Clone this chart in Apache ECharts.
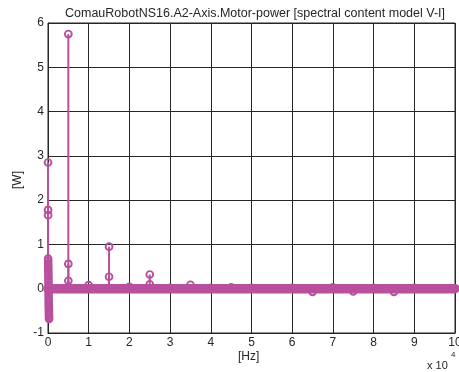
<!DOCTYPE html>
<html>
<head>
<meta charset="utf-8">
<script src="https://cdn.jsdelivr.net/npm/echarts@6/dist/echarts.min.js"></script>
<style>
html,body{margin:0;padding:0;background:#fff;}
#c{width:459px;height:372px;}
</style>
</head>
<body>
<div id="c"></div>
<script>
// Frequencies [Hz] and spectral power values [W]
const lowFreqs = [0, 10, 20, 30, 40, 50, 60, 70, 80, 90, 100, 110, 120, 130, 140, 150, 160, 170, 180, 190, 200, 210, 220, 230, 240, 250, 260, 270, 280, 290];
const lowValues = [2.85, 1.78, 1.66, 0.68, 0.63, 0.57, 0.51, 0.45, 0.39, 0.33, 0.27, 0.21, 0.15, 0.09, -0.06, -0.12, -0.18, -0.24, -0.3, -0.35, -0.4, -0.45, -0.5, -0.55, -0.6, -0.64, -0.68, 0.04, -0.03, 0.02];
const peakFreqs = [5000, 5000, 5000, 10000, 15000, 15000, 20000, 25000, 25000, 30000, 35000, 40000, 45000, 50000, 60000, 65000, 70000, 75000, 80000, 85000, 90000];
const peakValues = [5.75, 0.56, 0.18, 0.08, 0.95, 0.27, 0.04, 0.32, 0.1, 0.02, 0.09, 0.02, 0.03, 0.02, 0.02, -0.07, 0.03, -0.06, 0.02, -0.07, 0.02];
// dense near-zero floor of the spectrum (start / end frequencies)
const floorFreqs = [0, 100000];
const floorValues = [0, 0];
const xTicks = ['0','1','2','3','4','5','6','7','8','9','10'];
const yTicks = ['-1','0','1','2','3','4','5','6'];

const C = '#b8509e';
const stemData = [];
lowFreqs.forEach((f, i) => stemData.push([f, lowValues[i]]));
peakFreqs.forEach((f, i) => stemData.push([f, peakValues[i]]));

function renderStem(params, api) {
  const x = api.value(0), y = api.value(1);
  const p0 = api.coord([x, 0]);
  const p1 = api.coord([x, y]);
  return {
    type: 'group',
    children: [
      {type: 'line', shape: {x1: p0[0], y1: p0[1], x2: p1[0], y2: p1[1]}, style: {stroke: C, lineWidth: 2}},
      {type: 'circle', shape: {cx: p1[0], cy: p1[1], r: 3.4}, style: {fill: 'none', stroke: C, lineWidth: 1.9}}
    ]
  };
}

const chart = echarts.init(document.getElementById('c'), null, {renderer: 'canvas'});
const font = 'Liberation Sans, Arial, Helvetica, sans-serif';
chart.setOption({
  animation: false,
  backgroundColor: '#fff',
  title: {
    text: 'ComauRobotNS16.A2-Axis.Motor-power [spectral content model V-I]',
    left: 250, top: 2, textAlign: 'center',
    textStyle: {fontFamily: font, fontSize: 12.5, fontWeight: 'normal', color: '#262626'}
  },
  grid: {left: 48, top: 23, right: 4, bottom: 39, show: true, borderColor: '#262626', borderWidth: 1,
    backgroundColor: 'transparent', containLabel: false, outerBoundsMode: 'none'},
  xAxis: {
    type: 'value', min: 0, max: 100000, interval: 10000,
    axisLine: {show: true, onZero: false, lineStyle: {color: '#262626'}},
    axisTick: {show: true, inside: true, length: 4, lineStyle: {color: '#262626'}},
    axisLabel: {fontFamily: font, fontSize: 12, color: '#262626', margin: 4,
      formatter: v => xTicks[Math.round(v / 10000)]},
    splitLine: {show: true, lineStyle: {color: '#262626', width: 1}}
  },
  yAxis: {
    type: 'value', min: -1, max: 6, interval: 1,
    axisLine: {show: true, onZero: false, lineStyle: {color: '#262626'}},
    axisTick: {show: true, inside: true, length: 4, lineStyle: {color: '#262626'}},
    axisLabel: {fontFamily: font, fontSize: 12, color: '#262626', margin: 4,
      formatter: v => yTicks[Math.round(v + 1)]},
    splitLine: {show: true, lineStyle: {color: '#262626', width: 1}}
  },
  graphic: [
    {type: 'text', left: 238, top: 351, style: {text: '[Hz]', font: '12px ' + font, fill: '#262626'}},
    {type: 'text', x: 18, y: 180, rotation: Math.PI / 2, style: {text: '[W]', font: '12px ' + font, fill: '#262626', textAlign: 'center', textVerticalAlign: 'middle'}},
    {type: 'text', left: 427, top: 360, style: {text: 'x 10', font: '11px ' + font, fill: '#262626'}},
    {type: 'text', left: 451, top: 351, style: {text: '4', font: '8px ' + font, fill: '#262626'}}
  ],
  series: [
    {
      type: 'line', data: floorFreqs.map((f, i) => [f, floorValues[i]]),
      symbol: 'none', lineStyle: {color: C, width: 9.5, cap: 'round'}, z: 3
    },
    {
      type: 'custom', renderItem: renderStem, data: stemData, z: 4,
      encode: {x: 0, y: 1}
    }
  ]
});
</script>
</body>
</html>
